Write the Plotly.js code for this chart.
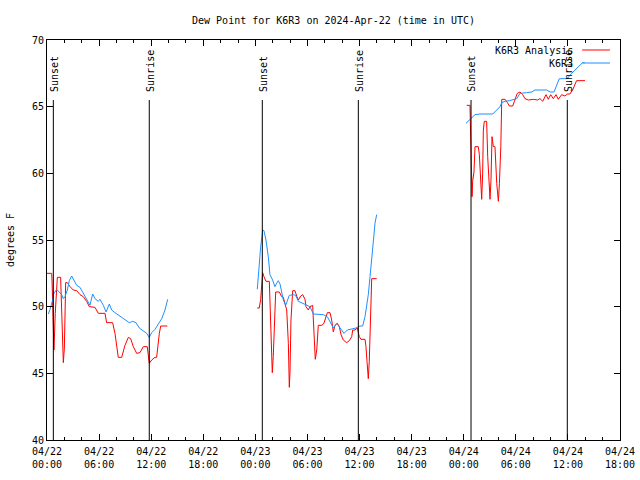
<!DOCTYPE html>
<html>
<head>
<meta charset="utf-8">
<script src="https://cdn.plot.ly/plotly-3.0.1.min.js"></script>
<style>html,body{margin:0;padding:0;background:#fff}#chart{width:640px;height:480px}</style>
</head>
<body>
<div id="chart"></div>
<script>
// Hours since 2024-04-22 00:00 UTC; null marks a data gap
var analysisHours = [
  0,0.54,0.58,0.65,0.8,0.95,1.19,1.57,1.69,1.88,2.0,2.15,2.34,2.65,3.03,3.42,3.8,4.18,4.57,4.87,5.53,5.91,6.68,6.87,7.56,7.83,8.21,8.6,8.98,9.37,9.64,9.94,10.33,10.71,11.09,11.55,11.78,12.06,12.44,12.63,12.94,13.1,13.86,
  null,
  24.22,24.45,24.61,24.73,24.84,24.99,25.22,25.61,25.77,25.88,25.95,26.06,26.18,26.34,26.76,27.03,27.22,27.61,27.8,27.91,27.99,28.1,28.3,28.56,28.76,28.95,29.22,29.45,29.72,29.83,30.1,30.29,30.6,30.75,30.9,31.07,31.25,31.64,31.9,32.14,32.29,32.6,32.79,32.98,33.17,33.44,33.67,33.87,34.13,34.52,34.82,35.1,35.21,35.48,35.74,35.97,36.17,36.63,36.74,36.86,37.01,37.12,37.28,37.4,37.97,
  null,
  48.34,48.72,48.84,48.96,49.03,49.18,49.3,49.68,49.8,49.95,50.07,50.18,50.26,50.37,50.64,50.76,50.95,51.03,51.14,51.26,51.41,51.6,51.8,51.99,52.11,52.27,52.38,52.76,53.03,53.26,53.64,53.91,54.17,54.48,54.79,55.06,55.44,56.02,56.48,56.79,57.1,57.48,57.74,58.02,58.32,58.63,58.89,59.28,59.66,59.92,60.23,60.54,60.81,61.0,61.97
];
var analysisValues = [
  52.5,52.5,51.9,49.6,46.75,49.5,52.2,52.2,49.0,45.8,46.9,51.8,51.8,51.5,51.25,51.2,50.9,50.75,50.4,50.0,49.95,49.5,49.5,48.8,48.8,48.0,46.2,46.2,47.1,47.7,47.6,47.0,46.5,46.55,47.0,47.0,45.75,46.0,46.2,46.2,48.0,48.55,48.55,
  null,
  49.9,49.9,50.55,51.5,52.55,52.25,51.9,51.9,48.5,46.25,45.05,46.25,49.0,51.1,51.1,50.75,50.7,49.75,47.25,43.95,45.1,49.0,51.2,51.2,50.8,50.5,50.8,50.9,50.55,50.0,49.75,50.0,50.1,47.5,46.05,46.75,48.6,48.6,48.75,49.25,49.55,49.55,49.0,48.1,48.6,48.75,48.5,47.9,47.5,47.3,47.45,47.75,48.25,48.25,48.4,47.75,47.55,47.55,47.0,45.9,44.6,45.9,50.75,52.1,52.1,
  null,
  65.1,65.1,61.75,58.25,59.4,60.1,62.0,62.0,61.4,58.75,58.05,60.0,63.25,63.9,63.9,61.25,59.5,58.05,59.5,62.75,62.0,62.0,59.25,57.9,59.25,62.0,65.55,65.55,65.3,65.05,65.05,65.5,66.0,66.1,65.9,65.6,65.5,65.55,65.5,65.6,65.4,65.9,65.55,65.9,65.6,65.9,65.55,65.9,65.8,65.95,65.95,66.25,66.6,66.95,66.95
];
var obsHours = [
  0.15,0.35,0.65,0.8,1.11,1.42,1.69,1.88,2.07,2.34,2.57,2.84,3.03,3.42,3.8,4.18,4.49,4.76,4.95,5.26,5.53,5.91,6.1,6.49,6.8,7.18,7.45,7.83,8.41,8.98,9.48,9.87,10.25,10.63,11.09,11.48,11.78,12.06,12.44,12.82,13.21,13.59,13.9,
  null,
  24.22,24.34,24.45,24.61,24.76,24.84,24.99,25.22,25.49,25.68,25.99,26.25,26.45,26.64,26.84,27.03,27.22,27.49,27.68,27.91,28.45,28.68,28.95,29.53,29.91,30.29,30.68,31.45,31.83,32.29,32.6,32.98,33.37,33.75,34.21,34.59,35.1,35.59,36.05,36.36,36.63,36.82,37.01,37.21,37.4,37.59,37.78,37.97,
  null,
  48.26,48.64,48.92,49.3,49.87,51.34,51.8,52.18,52.38,52.76,53.26,53.72,54.11,54.48,54.94,55.25,55.83,56.21,57.56,57.94,58.4,58.71,59.01,59.66,59.92,60.43,60.81,61.3,61.69,61.95
];
var obsValues = [
  49.45,49.8,50.5,51.0,51.3,51.1,50.9,50.6,50.75,51.25,51.95,52.3,52.1,51.6,51.45,51.0,50.6,50.25,50.1,50.95,50.6,50.4,50.55,50.1,49.6,50.2,49.75,49.55,49.3,49.05,48.8,48.9,48.8,48.4,48.2,48.0,47.7,48.05,48.3,48.7,49.1,49.75,50.55,
  null,
  51.3,52.25,53.5,54.5,55.25,55.75,55.7,55.0,53.75,52.4,52.0,51.5,51.75,51.95,51.7,51.0,50.5,50.1,50.45,50.85,50.9,50.8,50.4,50.2,50.1,50.0,49.45,49.4,49.4,49.25,48.9,48.4,48.75,48.4,48.0,48.25,48.3,48.4,48.55,48.55,49.25,50.0,50.9,52.25,53.75,55.25,56.25,56.9,
  null,
  63.75,64.0,64.2,64.4,64.45,64.45,64.75,65.0,65.3,65.4,65.45,65.55,65.6,66.0,66.0,66.05,66.1,66.25,66.25,66.1,66.1,66.6,67.1,67.1,67.1,67.5,67.75,68.0,68.3,68.3
];
var sunEventHours = [0.73, 11.78, 24.8, 35.86, 48.84, 59.93];
var sunEventLabels = ["Sunset", "Sunrise", "Sunset", "Sunrise", "Sunset", "Sunrise"];
var seriesNames = ["K6R3 Analysis", "K6R3"];
var seriesColors = ["#ff0000", "#1e90ff"];

var BASE = Date.UTC(2024, 3, 22, 0, 0, 0);
function toDate(h) {
  if (h === null) return null;
  return new Date(BASE + h * 3600000).toISOString().slice(0, 19).replace('T', ' ');
}
var FONT = "DejaVu Sans Mono";

var traces = [
  {x: analysisHours.map(toDate), y: analysisValues, type: 'scatter', mode: 'lines',
   name: seriesNames[0], line: {color: seriesColors[0], width: 1}, connectgaps: false, hoverinfo: 'skip'},
  {x: obsHours.map(toDate), y: obsValues, type: 'scatter', mode: 'lines',
   name: seriesNames[1], line: {color: seriesColors[1], width: 1}, connectgaps: false, hoverinfo: 'skip'}
];

var shapes = [];
var annotations = [];
sunEventHours.forEach(function (h, i) {
  shapes.push({type: 'line', xref: 'x', yref: 'y', x0: toDate(h), x1: toDate(h), y0: 40, y1: 65.5,
               line: {color: '#000', width: 1}});
  annotations.push({xref: 'x', yref: 'y', x: toDate(h), y: 65.75, text: sunEventLabels[i],
                    textangle: -90, showarrow: false, xanchor: 'center', yanchor: 'bottom', xshift: 1, yshift: 3,
                    font: {family: FONT, size: 10, color: '#000'}});
});
// gnuplot-style legend: text right, sample line to its right
var legendY = [0.975, 0.9425];
seriesNames.forEach(function (n, i) {
  annotations.push({xref: 'paper', yref: 'paper', x: 0.9215, y: legendY[i], text: n, showarrow: false,
                    xanchor: 'right', yanchor: 'middle', font: {family: FONT, size: 10, color: '#000'}});
  shapes.push({type: 'line', xref: 'paper', yref: 'paper', x0: 0.934, x1: 0.9825, y0: legendY[i], y1: legendY[i],
               line: {color: seriesColors[i], width: 1}});
});

var layout = {
  width: 640, height: 480,
  margin: {l: 47, r: 20, t: 40, b: 40, pad: 0},
  paper_bgcolor: '#fff', plot_bgcolor: '#fff',
  font: {family: FONT, size: 10, color: '#000'},
  showlegend: false,
  title: {text: 'Dew Point for K6R3 on 2024-Apr-22 (time in UTC)', x: 0.5, xref: 'paper', y: 0.958, yanchor: 'middle',
          font: {family: FONT, size: 10, color: '#000'}},
  xaxis: {type: 'date', range: [toDate(0), toDate(66)], tick0: toDate(0), dtick: 6 * 3600000,
          tickformat: '%m/%d<br>%H:%M', ticks: 'inside', ticklen: 6, tickcolor: '#000', ticklabelstandoff: 2,
          showline: true, linecolor: '#000', linewidth: 1, mirror: 'ticks', showgrid: false, zeroline: false,
          minor: {dtick: 2 * 3600000, tick0: toDate(0), ticks: 'inside', ticklen: 3, tickcolor: '#000', showgrid: false},
          tickfont: {family: FONT, size: 10, color: '#000'}, fixedrange: true},
  yaxis: {range: [40, 70], dtick: 5, tick0: 40, ticks: 'inside', ticklen: 6, tickcolor: '#000',
          showline: true, linecolor: '#000', linewidth: 1, mirror: 'ticks', showgrid: false, zeroline: false,
          tickfont: {family: FONT, size: 10, color: '#000'},
          title: {text: 'degrees F', font: {family: FONT, size: 10, color: '#000'}, standoff: 15}, fixedrange: true},
  shapes: shapes,
  annotations: annotations
};

Plotly.newPlot('chart', traces, layout, {staticPlot: true, displayModeBar: false});
</script>
</body>
</html>
